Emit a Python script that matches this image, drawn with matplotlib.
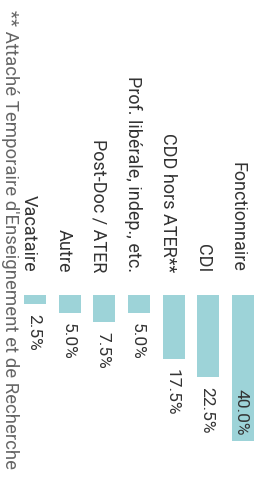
import matplotlib.pyplot as plt
import numpy as np

# données
categories = ['Fonctionnaire', 'CDI', 'CDD hors ATER**', 'Prof. libérale, indep., etc.',
              'Post-Doc / ATER', 'Autre', 'Vacataire']
values = [40.0, 22.5, 17.5, 5.0, 7.5, 5.0, 2.5]
footnote = "** Attaché Temporaire d'Enseignement et de Recherche"

plt.rcParams['font.family'] = ['Roboto', 'DejaVu Sans']

W, H = 256, 479
fig = plt.figure(figsize=(W / 100, H / 100), dpi=100)

# axe : barres verticales vers le bas, texte tourné de -90°
top_px = 295
px_per_pct = 3.65
ax = fig.add_axes([0, 0, 1, (H - top_px) / H])
ax.set_ylim((H - top_px) / px_per_pct, 0)
ax.set_xlim(-1.01, 6.37)
ax.axis('off')

bar_color = '#9dd3d8'
txt_color = '#333333'
n = len(categories)
x = np.arange(n)[::-1]  # Fonctionnaire à droite

ax.bar(x, values, width=0.635, color=bar_color)

for xi, cat, v in zip(x, categories, values):
    ax.text(xi - 0.17, -6.3, cat, rotation=-90, ha='center', va='bottom',
            fontsize=13, color=txt_color)
    if v >= 30:
        ax.text(xi - 0.05, v - 1.4, '%.1f%%' % v, rotation=-90, ha='center', va='bottom',
                fontsize=12.5, color=txt_color)
    else:
        ax.text(xi - 0.05, v + 2.7, '%.1f%%' % v, rotation=-90, ha='center', va='top',
                fontsize=12.5, color=txt_color)

fig.text(10 / W, 1 - 10 / H, footnote, rotation=-90, ha='center', va='top',
         fontsize=13.4, color='#666666')

fig.savefig('out.png', dpi=100)
